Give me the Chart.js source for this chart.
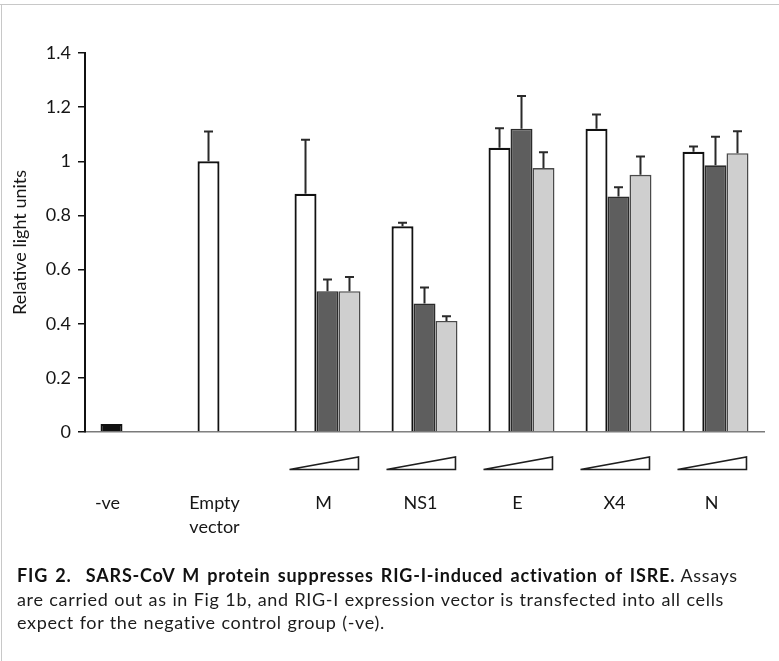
<!DOCTYPE html>
<html>
<head>
<meta charset="utf-8">
<script src="https://cdn.jsdelivr.net/npm/chart.js@4/dist/chart.umd.min.js"></script>
<style>
  html, body { margin: 0; padding: 0; background: #fff; }
  #wrap { position: relative; width: 779px; height: 661px; overflow: hidden; }
  #topline { position: absolute; left: 0; top: 4px; width: 779px; height: 1px; background: #c8c8c8; }
  #leftline { position: absolute; left: 1px; top: 4px; width: 1px; height: 657px; background: #c8c8c8; }
  canvas { position: absolute; left: 0; top: 0; }
  #caption {
    position: absolute; left: 17px; top: 564px; width: 760px;
    font-family: Lato, "Open Sans", sans-serif; font-size: 18px; line-height: 23.5px;
    letter-spacing: 0.65px; word-spacing: 0.5px;
    color: #1c1c1c; white-space: nowrap;
  }
  #caption b { font-weight: 700; letter-spacing: 0.8px; word-spacing: 2px; color: #111; }
</style>
</head>
<body>
<div id="wrap">
  <canvas id="c" width="779" height="661"></canvas>
  <div id="topline"></div>
  <div id="leftline"></div>
  <div id="caption"><b>FIG 2.&nbsp; SARS-CoV M protein suppresses RIG-I-induced activation of ISRE.</b> Assays<br>are carried out as in Fig 1b, and RIG-I expression vector is transfected into all cells<br>expect for the negative control group (-ve).</div>
</div>
<script>
// ---- data ----
const categories = ['-ve', ['Empty', 'vector'], 'M', 'NS1', 'E', 'X4', 'N'];
const doseLow  = [0.03, 1.00, 0.88, 0.76, 1.05, 1.12, 1.035];
const doseMid  = [null, null, 0.52, 0.475, 1.12, 0.87, 0.985];
const doseHigh = [null, null, 0.52, 0.41, 0.975, 0.95, 1.03];
const errLow   = [0, 0.11, 0.20, 0.013, 0.072, 0.053, 0.02];
const errMid   = [null, null, 0.043, 0.059, 0.121, 0.034, 0.106];
const errHigh  = [null, null, 0.053, 0.018, 0.058, 0.068, 0.081];
const yTicks   = [0, 0.2, 0.4, 0.6, 0.8, 1, 1.2, 1.4];
const wedgeCategories = [2, 3, 4, 5, 6];

const FONT = 'Lato, "Open Sans", sans-serif';

const errorBarPlugin = {
  id: 'errorBars',
  afterDatasetsDraw(chart) {
    const ctx = chart.ctx;
    const y = chart.scales.y;
    const errs = [errLow, errMid, errHigh];
    ctx.save();
    ctx.strokeStyle = '#2a2a2a';
    ctx.lineWidth = 2;
    chart.data.datasets.forEach((ds, di) => {
      const meta = chart.getDatasetMeta(di);
      meta.data.forEach((bar, i) => {
        const v = ds.data[i];
        const e = errs[di][i];
        if (v == null || !e) return;
        const yTop = y.getPixelForValue(v + e);
        const yBar = y.getPixelForValue(v);
        ctx.beginPath();
        ctx.moveTo(bar.x, yBar);
        ctx.lineTo(bar.x, yTop);
        ctx.moveTo(bar.x - 4.5, yTop);
        ctx.lineTo(bar.x + 4.5, yTop);
        ctx.stroke();
      });
    });
    ctx.restore();
  }
};

const xLabelPlugin = {
  id: 'xLabels',
  afterDraw(chart) {
    const ctx = chart.ctx;
    const xs = chart.scales.x;
    const m0 = chart.getDatasetMeta(0);
    const m2 = chart.getDatasetMeta(2);
    ctx.save();
    // dose wedges
    ctx.strokeStyle = '#1e1e1e';
    ctx.lineWidth = 1.6;
    ctx.lineJoin = 'miter';
    wedgeCategories.forEach(i => {
      const b0 = m0.data[i], b2 = m2.data[i];
      const left = b0.x - b0.width / 2 - 5;
      const right = b2.x + b2.width / 2 - 2;
      ctx.beginPath();
      ctx.moveTo(left, 469.5);
      ctx.lineTo(right, 457);
      ctx.lineTo(right, 469.5);
      ctx.closePath();
      ctx.stroke();
    });
    // category labels
    ctx.fillStyle = '#161616';
    ctx.font = '18px ' + FONT;
    ctx.textAlign = 'center';
    ctx.textBaseline = 'middle';
    categories.forEach((lab, i) => {
      let cx;
      if (doseMid[i] == null && doseHigh[i] == null) {
        cx = m0.data[i].x + (i === 0 ? -4 : 6);
      } else {
        cx = xs.getPixelForValue(i) - 4;
      }
      const lines = Array.isArray(lab) ? lab : [lab];
      lines.forEach((t, k) => ctx.fillText(t, cx, 503 + k * 24));
    });
    ctx.restore();
  }
};

new Chart(document.getElementById('c'), {
  type: 'bar',
  data: {
    labels: categories,
    datasets: [
      {
        label: 'low dose',
        data: doseLow,
        backgroundColor: doseLow.map((v, i) => i === 0 ? '#111111' : '#ffffff'),
        borderColor: '#111111',
        borderWidth: 2.2
      },
      {
        label: 'mid dose',
        data: doseMid,
        backgroundColor: '#5e5e5e',
        borderColor: '#2b2b2b',
        borderWidth: 1.6
      },
      {
        label: 'high dose',
        data: doseHigh,
        backgroundColor: '#cfcfcf',
        borderColor: '#4a4a4a',
        borderWidth: 1.6
      }
    ]
  },
  options: {
    responsive: false,
    animation: false,
    events: [],
    layout: { padding: { top: 53, right: 15, bottom: 219, left: 0 } },
    plugins: { legend: { display: false }, tooltip: { enabled: false } },
    datasets: { bar: { categoryPercentage: 0.68, barPercentage: 1.0 } },
    scales: {
      x: {
        grid: { display: false },
        border: { display: true, color: '#7a7a7a', width: 1.6 },
        ticks: { display: false },
        afterFit(s) { s.height = 10; }
      },
      y: {
        min: 0,
        max: 1.4,
        afterBuildTicks(s) { s.ticks = yTicks.map(v => ({ value: v })); },
        ticks: {
          color: '#161616',
          font: { family: FONT, size: 18 },
          padding: 7,
          callback: (v) => String(Math.round(v * 10) / 10)
        },
        grid: { display: true, drawOnChartArea: false, drawTicks: true, tickLength: 7, color: '#111', lineWidth: 1.5 },
        border: { display: true, color: '#111', width: 2 },
        title: {
          display: true,
          text: 'Relative light units',
          color: '#161616',
          font: { family: FONT, size: 18 },
          padding: { top: 9, bottom: 0 }
        },
        afterFit(s) { s.width = 85; }
      }
    }
  },
  plugins: [errorBarPlugin, xLabelPlugin]
});
</script>
</body>
</html>
